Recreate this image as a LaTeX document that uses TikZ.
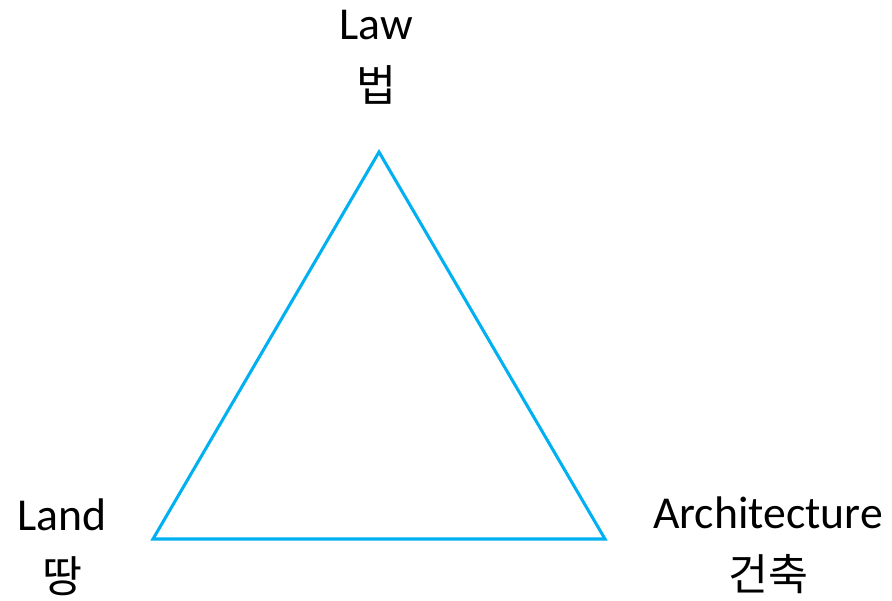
\documentclass[tikz,border=0pt]{standalone}
\usepackage{fontspec}
\setmainfont{Carlito}
\newfontfamily\kr[Scale=0.95]{Noto Sans CJK KR}
\usetikzlibrary{positioning}
\definecolor{sideblue}{HTML}{00B0F0}

\begin{document}
\begin{tikzpicture}[
  x=0.03cm, y=-0.03cm,
  side/.style={draw=sideblue, line width=2.6pt, line join=miter},
  corner/.style={align=center, inner sep=0pt, font=\fontsize{39}{53}\selectfont},
]
\useasboundingbox (0,0) rectangle (892,601);

\coordinate (law) at (379,152);
\coordinate (land) at (153,539);
\coordinate (arch) at (605,539);

\draw[side] (law) -- (land) -- (arch) -- cycle;

\node[corner] (lawtext) at (376,57) {Law\\{\kr 법}};
\node[corner] (landtext) at (62,547) {Land\\{\kr 땅}};
\node[corner] (archtext) at (768,545) {Architecture\\{\kr 건축}};

\end{tikzpicture}
\end{document}
